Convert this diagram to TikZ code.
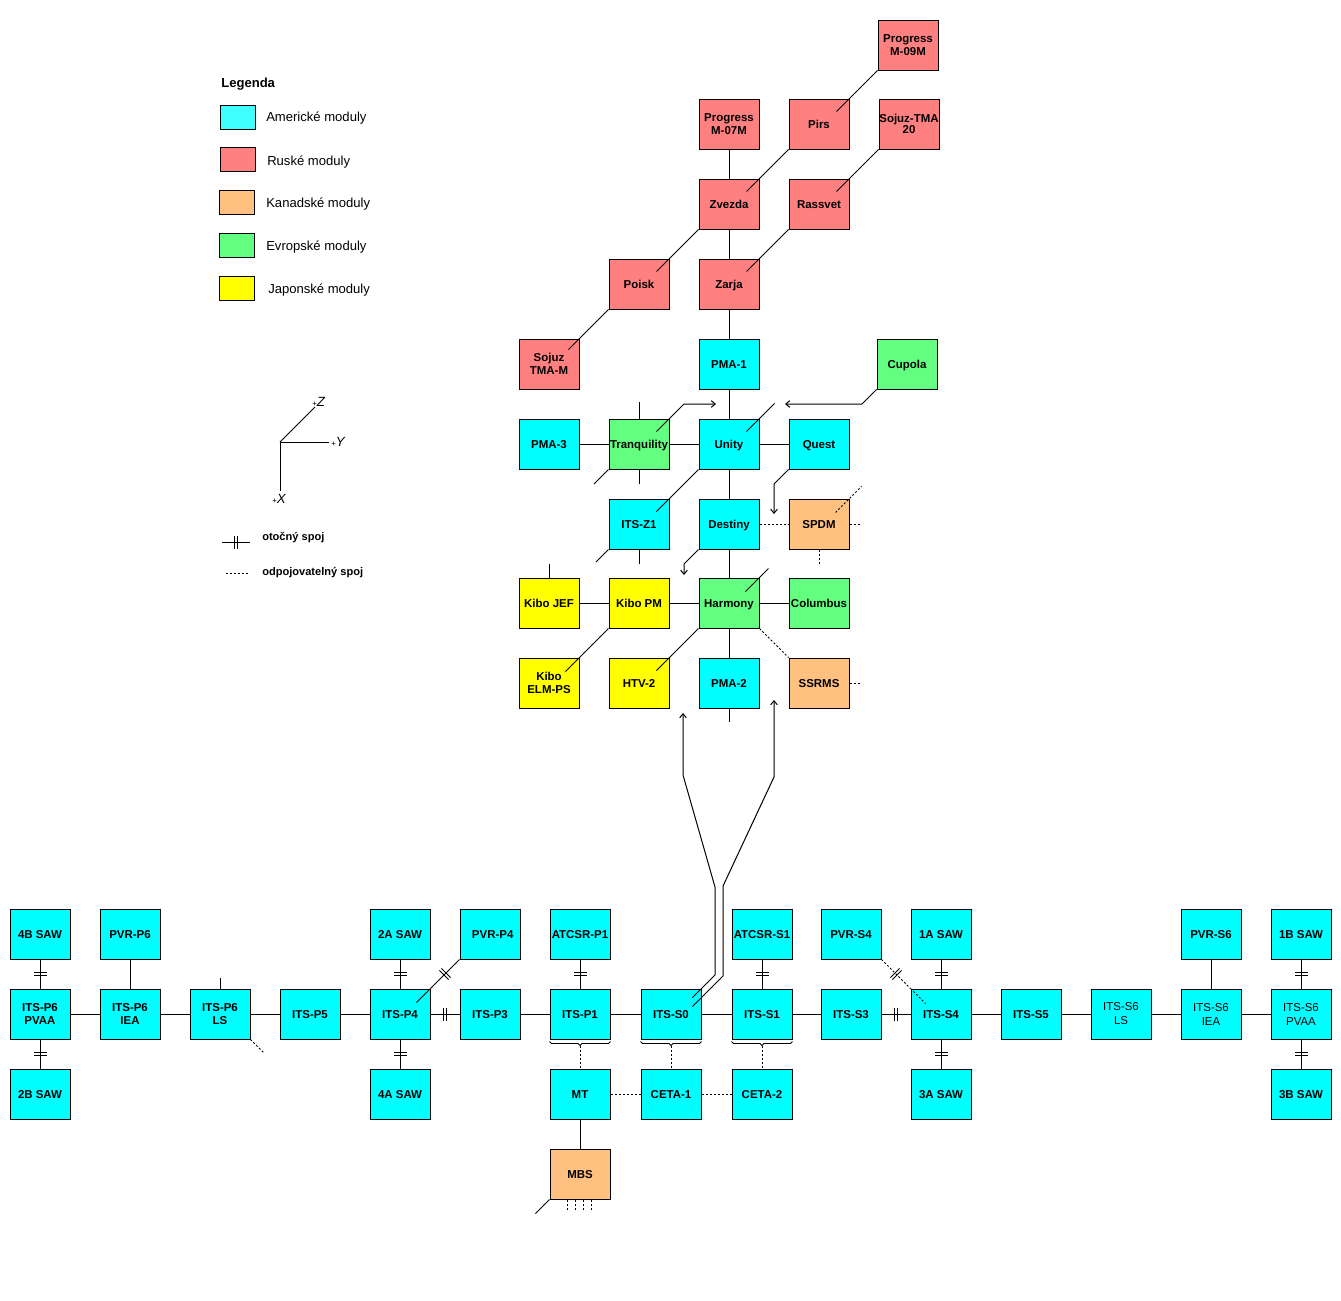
\documentclass[tikz,border=0pt]{standalone}
\usepackage{fontspec}
\setmainfont{Liberation Sans}
\usetikzlibrary{calc,arrows.meta,decorations.markings}
\definecolor{cUS}{HTML}{00FFFF}
\definecolor{cUSl}{HTML}{40FFFF}
\definecolor{cRU}{HTML}{FF8080}
\definecolor{cCA}{HTML}{FFC080}
\definecolor{cEU}{HTML}{62FF80}
\definecolor{cJP}{HTML}{FFFF00}
\newcommand\modfont{\fontsize{8.6}{9.5}\selectfont\bfseries}
\newcommand\modfontreg{\fontsize{8.6}{10.5}\selectfont}
\newcommand\legfont{\fontsize{9.8}{11}\selectfont}
\newcommand\mkbrace[1]{%
  \draw[con,line width=0.6pt] ($(#1.south west)+(0,2)$) -- ++(2,2) -- ($(#1.south)+(-2,4)$) -- ++(2,2) -- ++(2,-2) -- ($(#1.south east)+(-2,4)$) -- ++(2,-2);
  \coordinate (#1br) at ($(#1.south)+(0,6)$);}
\begin{document}
\begin{tikzpicture}[x=0.75pt,y=-0.75pt,
  box/.style={draw,line width=0.75pt,minimum width=45pt,minimum height=37.5pt,inner sep=0pt,align=center,font=\modfont,text height=6.2pt,text depth=0pt},
  ml/.style={text height={},text depth={}},
  us/.style={box,fill=cUS}, ru/.style={box,fill=cRU}, ca/.style={box,fill=cCA},
  eu/.style={box,fill=cEU}, jp/.style={box,fill=cJP},
  con/.style={line width=0.75pt},
  dot/.style={line width=0.75pt,dash pattern=on 1.5pt off 1.5pt},
  arr/.style={con,-{Straight Barb[length=3pt,width=5pt]}},
  rot/.style={postaction={decorate},decoration={markings,mark=at position 0.5 with {\draw[solid,line width=0.75pt] (-1.4,-6.5) -- (-1.4,6.5) (1.4,-6.5) -- (1.4,6.5);}}},
  swatch/.style={draw,line width=0.75pt},
  legtxt/.style={anchor=west,font=\legfont,inner sep=0pt}
]
\fill[white] (0,0) rectangle (1341,1300);
\useasboundingbox (0,0) rectangle (1341,1300);

% ---------------- Legend ----------------
\node[legtxt,font=\legfont\bfseries] (legT) at (221,84) {Legenda};
\draw[swatch,fill=cUSl] (220,105) rectangle (255,129);
\draw[swatch,fill=cRU] (220,147) rectangle (255,171);
\draw[swatch,fill=cCA] (219,190) rectangle (254,214);
\draw[swatch,fill=cEU] (219,233) rectangle (254,257);
\draw[swatch,fill=cJP] (219,276) rectangle (254,300);
\node[legtxt] (l1) at (266,118) {Americké moduly};
\node[legtxt] (l2) at (267,162) {Ruské moduly};
\node[legtxt] (l3) at (266,204) {Kanadské moduly};
\node[legtxt] (l4) at (266,247) {Evropské moduly};
\node[legtxt] (l5) at (268,290) {Japonské moduly};

% axes
\coordinate (ax0) at (280,442);
\coordinate (axY) at (329,442);
\coordinate (axX) at (280,491);
\coordinate (axZ) at (315,407);
\draw[con] (ax0) -- (axY);
\draw[con] (ax0) -- (axX);
\draw[line width=0.6pt] (ax0) -- (axZ);
\node[anchor=west,inner sep=0pt] (lY) at (331,442) {{\fontsize{6}{6}\selectfont+}{\fontsize{10}{10}\selectfont\itshape Y}};
\node[anchor=west,inner sep=0pt] (lZ) at (312,402) {{\fontsize{6}{6}\selectfont+}{\fontsize{10}{10}\selectfont\itshape Z}};
\node[anchor=west,inner sep=0pt] (lX) at (272,499) {{\fontsize{6}{6}\selectfont+}{\fontsize{10}{10}\selectfont\itshape X}};

% joint legend
\coordinate (jr1) at (222,542);
\coordinate (jr2) at (250,542);
\draw[con,rot] (jr1) -- (jr2);
\node[anchor=west,font=\fontsize{8.3}{9}\selectfont\bfseries,inner sep=0pt] (jrT) at (262,538) {otočný spoj};
\coordinate (jd1) at (226,573);
\coordinate (jd2) at (250,573);
\draw[dot] (jd1) -- (jd2);
\node[anchor=west,font=\fontsize{8.3}{9}\selectfont\bfseries,inner sep=0pt] (jdT) at (262,573) {odpojovatelný spoj};

% ---------------- Upper cluster ----------------
\node[ru,ml] (pm09) at (908,45) {Progress\\M-09M};
\node[ru,ml] (pm07) at (729,124) {Progress\\M-07M};
\node[ru] (pirs) at (819,124) {Pirs};
\node[ru,ml] (stma20) at (909,124) {Sojuz-TMA\\[-1.5pt]20};
\node[ru] (zvezda) at (729,204) {Zvezda};
\node[ru] (rassvet) at (819,204) {Rassvet};
\node[ru] (poisk) at (639,284) {Poisk};
\node[ru] (zarja) at (729,284) {Zarja};
\node[ru,ml] (stmam) at (549,364) {Sojuz\\TMA-M};
\node[us] (pma1) at (729,364) {PMA-1};
\node[eu] (cupola) at (907,364) {Cupola};
\node[us] (pma3) at (549,444) {PMA-3};
\node[eu] (tranq) at (639,444) {Tranquility};
\node[us] (unity) at (729,444) {Unity};
\node[us] (quest) at (819,444) {Quest};
\node[us] (z1) at (639,524) {ITS-Z1};
\node[us] (destiny) at (729,524) {Destiny};
\node[ca] (spdm) at (819,524) {SPDM};
\node[jp] (jef) at (549,603) {Kibo JEF};
\node[jp] (jpm) at (639,603) {Kibo PM};
\node[eu] (harmony) at (729,603) {Harmony};
\node[eu] (columbus) at (819,603) {Columbus};
\node[jp,ml] (elm) at (549,683) {Kibo\\[0.5pt]ELM-PS};
\node[jp] (htv) at (639,683) {HTV-2};
\node[us] (pma2) at (729,683) {PMA-2};
\node[ca] (ssrms) at (819,683) {SSRMS};

% straight connections
\draw[con] (pm07) -- (zvezda);
\draw[con] (zvezda) -- (zarja);
\draw[con] (zarja) -- (pma1);
\draw[con] (pma1) -- (unity);
\draw[con] (pma3) -- (tranq);
\draw[con] (tranq) -- (unity);
\draw[con] (unity) -- (quest);
\draw[con] (unity) -- (destiny);
\draw[con] (destiny) -- (harmony);
\draw[con] (jef) -- (jpm);
\draw[con] (jpm) -- (harmony);
\draw[con] (harmony) -- (columbus);
\draw[con] (harmony) -- (pma2);
\draw[dot] (destiny) -- (spdm);

% diagonal connections
\draw[con] (pm09.south west) -- ($(pirs.north east)+(-13,13)$);
\draw[con] (pirs.south west) -- ($(zvezda.north east)+(-13,13)$);
\draw[con] (stma20.south west) -- ($(rassvet.north east)+(-13,13)$);
\draw[con] (zvezda.south west) -- ($(poisk.north east)+(-13,13)$);
\draw[con] (rassvet.south west) -- ($(zarja.north east)+(-13,13)$);
\draw[con] (poisk.south west) -- ($(stmam.north east)+(-11,11)$);
\draw[con] (unity.south west) -- ($(z1.north east)+(-13,13)$);
\draw[con] (jpm.south west) -- ($(elm.north east)+(-14,14)$);
\draw[con] (harmony.south west) -- ($(htv.north east)+(-13,13)$);
\draw[dot] (harmony.south east) -- (ssrms.north west);

% stubs
\coordinate (tqT) at (639,402);
\coordinate (tqB) at (639,484);
\coordinate (tqSW) at (594,484);
\draw[con] (tranq.north) -- (tqT);
\draw[con] (tranq.south) -- (tqB);
\draw[con] (tranq.south west) -- (tqSW);
\draw[con] ($(unity.north east)+(-13,13)$) -- ($(unity.north east)+(15,-15)$);
\coordinate (z1B) at (639,564);
\coordinate (z1SW) at (596,562);
\draw[con] (z1.south) -- (z1B);
\draw[con] (z1.south west) -- (z1SW);
\coordinate (jefT) at (549,564);
\draw[con] (jef.north) -- (jefT);
\coordinate (pma2B) at (729,722);
\draw[con] (pma2.south) -- (pma2B);
\draw[con] ($(harmony.north east)+(-14,14)$) -- ($(harmony.north east)+(9,-9)$);
\coordinate (spdmE) at (861,524);
\coordinate (spdmS) at (819,564);
\draw[dot] (spdm.east) -- (spdmE);
\draw[dot] (spdm.south) -- (spdmS);
\draw[dot] ($(spdm.north east)+(-14,14)$) -- ($(spdm.north east)+(12,-12)$);
\coordinate (ssrmsE) at (861,683);
\draw[dot] (ssrms.east) -- (ssrmsE);

% arrows in upper cluster
\coordinate (tqK) at (684,404);
\coordinate (tqE) at (716,404);
\draw[arr] ($(tranq.north east)+(-13,13)$) -- (tqK) -- (tqE);
\coordinate (cuK) at (862,404);
\coordinate (cuE) at (785,404);
\draw[arr] (cupola.south west) -- (cuK) -- (cuE);
\coordinate (qK) at (774,484);
\coordinate (qE) at (774,514);
\draw[arr] (quest.south west) -- (qK) -- (qE);
\coordinate (dK) at (684,564);
\coordinate (dE) at (684,575);
\draw[arr] (destiny.south west) -- (dK) -- (dE);

% ---------------- Truss ----------------
\node[us] (b4) at (40,934) {4B SAW};
\node[us,ml] (p6pvaa) at (40,1014) {ITS-P6\\PVAA};
\node[us] (b2) at (40,1094) {2B SAW};
\node[us] (pvrp6) at (130,934) {PVR-P6};
\node[us,ml] (p6iea) at (130,1014) {ITS-P6\\IEA};
\node[us,ml] (p6ls) at (220,1014) {ITS-P6\\LS};
\node[us] (p5) at (310,1014) {ITS-P5};
\node[us] (a2) at (400,934) {2A SAW};
\node[us] (p4) at (400,1014) {ITS-P4};
\node[us] (a4) at (400,1094) {4A SAW};
\node[us] (pvrp4) at (490,934) {\hspace*{4pt}PVR-P4};
\node[us] (p3) at (490,1014) {ITS-P3};
\node[us] (atp1) at (580,934) {ATCSR-P1};
\node[us] (p1) at (580,1014) {ITS-P1};
\node[us] (mt) at (580,1094) {MT};
\node[ca] (mbs) at (580,1174) {MBS};
\node[us] (s0) at (671,1014) {ITS-S0};
\node[us] (ceta1) at (671,1094) {CETA-1};
\node[us] (ats1) at (762,934) {ATCSR-S1};
\node[us] (s1) at (762,1014) {ITS-S1};
\node[us] (ceta2) at (762,1094) {CETA-2};
\node[us] (pvrs4) at (851,934) {PVR-S4};
\node[us] (s3) at (851,1014) {ITS-S3};
\node[us] (a1) at (941,934) {1A SAW};
\node[us] (s4) at (941,1014) {ITS-S4};
\node[us] (a3) at (941,1094) {3A SAW};
\node[us] (s5) at (1031,1014) {ITS-S5};
\node[us,ml,font=\modfontreg] (s6ls) at (1121,1014) {ITS-S6\\LS};
\node[us,ml,font=\modfontreg] (s6iea) at (1211,1014) {ITS-S6\\IEA};
\node[us] (pvrs6) at (1211,934) {PVR-S6};
\node[us] (b1) at (1301,934) {1B SAW};
\node[us,ml,font=\modfontreg] (s6pvaa) at (1301,1014) {ITS-S6\\PVAA};
\node[us] (b3) at (1301,1094) {3B SAW};

% rotary joints
\draw[con,rot] (b4) -- (p6pvaa);
\draw[con,rot] (p6pvaa) -- (b2);
\draw[con,rot] (a2) -- (p4);
\draw[con,rot] (p4) -- (a4);
\draw[con,rot] (p4) -- (p3);
\draw[con,rot] (atp1) -- (p1);
\draw[con,rot] (ats1) -- (s1);
\draw[con,rot] (s3) -- (s4);
\draw[con,rot] (a1) -- (s4);
\draw[con,rot] (s4) -- (a3);
\draw[con,rot] (b1) -- (s6pvaa);
\draw[con,rot] (s6pvaa) -- (b3);
\draw[con,rot] (pvrp4.south west) -- (p4.north east);
\draw[con] (p4.north east) -- ($(p4.north east)+(-14,14)$);
\draw[dot,rot] (pvrs4.south east) -- (s4.north west);
\draw[dot] (s4.north west) -- ($(s4.north west)+(15,15)$);

% plain truss connections
\draw[con] (p6pvaa) -- (p6iea);
\draw[con] (pvrp6) -- (p6iea);
\draw[con] (p6iea) -- (p6ls);
\draw[con] (p6ls) -- (p5);
\draw[con] (p5) -- (p4);
\draw[con] (p3) -- (p1);
\draw[con] (p1) -- (s0);
\draw[con] (s0) -- (s1);
\draw[con] (s1) -- (s3);
\draw[con] (s4) -- (s5);
\draw[con] (s5) -- (s6ls);
\draw[con] (s6ls) -- (s6iea);
\draw[con] (pvrs6) -- (s6iea);
\draw[con] (s6iea) -- (s6pvaa);
\draw[con] (mt) -- (mbs);

% P6 LS stubs
\coordinate (lsT) at (220,978);
\draw[con] (p6ls.north) -- (lsT);
\draw[dot] (p6ls.south east) -- ($(p6ls.south east)+(13,13)$);

% braces and mobile transporter
\mkbrace{p1}
\mkbrace{s0}
\mkbrace{s1}
\draw[dot] (p1br) -- (mt);
\draw[dot] (s0br) -- (ceta1);
\draw[dot] (s1br) -- (ceta2);
\draw[dot] (mt) -- (ceta1);
\draw[dot] (ceta1) -- (ceta2);

% MBS stubs
\draw[con] (mbs.south west) -- ++(-14,14);
\foreach \dx in {-13,-5,3,11} {\draw[dot] ($(mbs.south)+(\dx,0)$) -- ++(0,10);}

% long arrows from S0 to the lab cluster
\coordinate (u1a) at (715,975);
\coordinate (u1b) at (715,887);
\coordinate (u1c) at (683,775);
\coordinate (u1d) at (683,713);
\draw[arr] ($(s0.north east)+(-9,9)$) -- (u1a) -- (u1b) -- (u1c) -- (u1d);
\coordinate (u2a) at (723,976);
\coordinate (u2b) at (723,886);
\coordinate (u2c) at (774,777);
\coordinate (u2d) at (774,700);
\draw[arr] ($(s0.north east)+(-9,18)$) -- (u2a) -- (u2b) -- (u2c) -- (u2d);
\end{tikzpicture}
\end{document}
